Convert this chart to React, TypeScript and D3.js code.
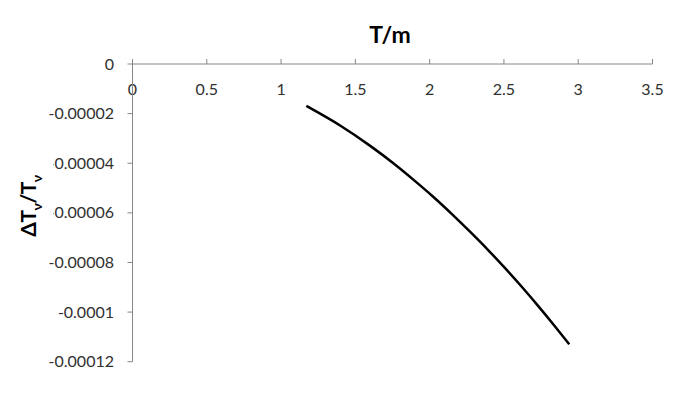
import React from 'react';
import * as d3 from 'd3';

// T/m values and the relative shift
const tOverM = [1.17, 1.4, 1.6, 1.76, 1.9, 2.02, 2.15, 2.27, 2.4, 2.5, 2.62, 2.72, 2.84, 2.94];
const deltaT = [
  -0.0000169, -0.0000249, -0.000033, -0.0000402, -0.0000471, -0.0000533, -0.0000605,
  -0.0000675, -0.0000754, -0.0000818, -0.0000898, -0.0000968, -0.0001055, -0.000113,
];
const xTicks = [0, 0.5, 1, 1.5, 2, 2.5, 3, 3.5];
const yTicks = [0, -0.00002, -0.00004, -0.00006, -0.00008, -0.0001, -0.00012];
const yTickLabels = ['0', '-0.00002', '-0.00004', '-0.00006', '-0.00008', '-0.0001', '-0.00012'];

const width = 683, height = 409;
const font = 'Lato, "Open Sans", sans-serif';

export default function App() {
  const x = d3.scaleLinear().domain([0, 3.5]).range([132.5, 652.5]);
  const y = d3.scaleLinear().domain([0, -0.00012]).range([64, 361.7]);

  const line = d3.line<number>()
    .x((_, i) => x(tOverM[i]))
    .y(d => y(d))
    .curve(d3.curveMonotoneX);

  const axisColor = '#868686';
  const textColor = '#303030';

  return (
    <svg width={width} height={height} style={{ position: 'absolute', left: 0, top: 0, background: '#fff' }}>
      {/* x axis along the top */}
      <line x1={x(0)} x2={x(3.5)} y1={y(0)} y2={y(0)} stroke={axisColor} strokeWidth={1} />
      {xTicks.map(t => (
        <g key={'x' + t}>
          <line x1={x(t)} x2={x(t)} y1={y(0) - 5} y2={y(0)} stroke={axisColor} />
          <text x={x(t)} y={y(0) + 31} textAnchor="middle" fontFamily={font} fontSize={16} fill={textColor}>{t}</text>
        </g>
      ))}

      {/* y axis */}
      <line x1={x(0)} x2={x(0)} y1={y(0)} y2={y(-0.00012)} stroke={axisColor} strokeWidth={1} />
      {yTicks.map((t, i) => (
        <g key={'y' + i}>
          <line x1={x(0) - 5} x2={x(0)} y1={y(t)} y2={y(t)} stroke={axisColor} />
          <text x={114} y={y(t)} dy="0.35em" textAnchor="end" fontFamily={font} fontSize={16} fill={textColor}>{yTickLabels[i]}</text>
        </g>
      ))}

      <path d={line(deltaT) || ''} fill="none" stroke="#000" strokeWidth={2.5} />

      {/* titles */}
      <text x={390} y={43} textAnchor="middle" fontFamily={font} fontWeight="bold" fontSize={23} fill="#000">T/m</text>
      <rect x={12} y={150} width={41} height={95} fill="#fff" />
      <text transform="translate(36,206) rotate(-90)" textAnchor="middle" fontFamily={font} fontWeight="bold" fontSize={21} fill="#000" letterSpacing={-0.5}>
        ΔT<tspan fontSize={14} dy={6}>ν</tspan><tspan dy={-6}>/T</tspan><tspan fontSize={14} dy={6}>ν</tspan>
      </text>
    </svg>
  );
}
